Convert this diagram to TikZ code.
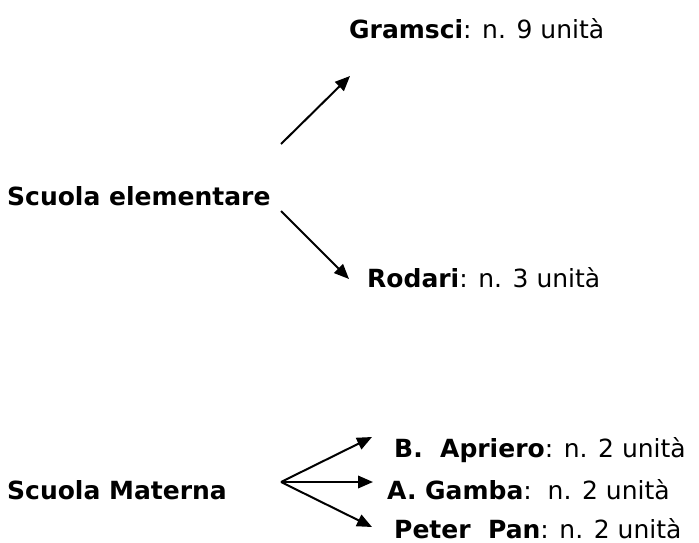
\documentclass[tikz,border=0pt]{standalone}
\usepackage{fontspec}
\setmainfont{DejaVu Sans}
\usetikzlibrary{arrows.meta}
\begin{document}
\begin{tikzpicture}[x=1pt,y=-1pt,
  lbl/.style={anchor=base west,inner sep=0pt,text depth=0pt,font=\fontsize{25}{28}\selectfont},
  arr/.style={-{Triangle[length=15pt,width=12.5pt]},line width=2pt}]
\useasboundingbox (0,0) rectangle (699,543);
\node[lbl] (gram) at (349,39) {\textbf{Gramsci}: n. 9 unità};
\node[lbl] (elem) at (7,205) {\textbf{Scuola elementare}};
\node[lbl] (rod) at (367,287) {\textbf{Rodari}: n. 3 unità};
\node[lbl] (mat) at (7,499) {\textbf{Scuola Materna}};
\node[lbl] (apr) at (394,457) {\textbf{B.\ \ Apriero}: n. 2 unità};
\node[lbl] (gam) at (387,499) {\textbf{A.\ Gamba}:\ \ n. 2 unità};
\node[lbl] (pet) at (394,538) {\textbf{Peter\ \ Pan}: n. 2 unità};
\coordinate (e1) at (281,144);
\coordinate (g1) at (350,76);
\coordinate (e2) at (281,211);
\coordinate (r1) at (349,279);
\coordinate (m0) at (281,482);
\coordinate (a1) at (372,437);
\coordinate (b1) at (373,482);
\coordinate (p1) at (372,527);
\draw[arr] (e1) -- (g1);
\draw[arr] (e2) -- (r1);
\draw[arr] (m0) -- (a1);
\draw[arr] (m0) -- (b1);
\draw[arr] (m0) -- (p1);
\end{tikzpicture}
\end{document}
